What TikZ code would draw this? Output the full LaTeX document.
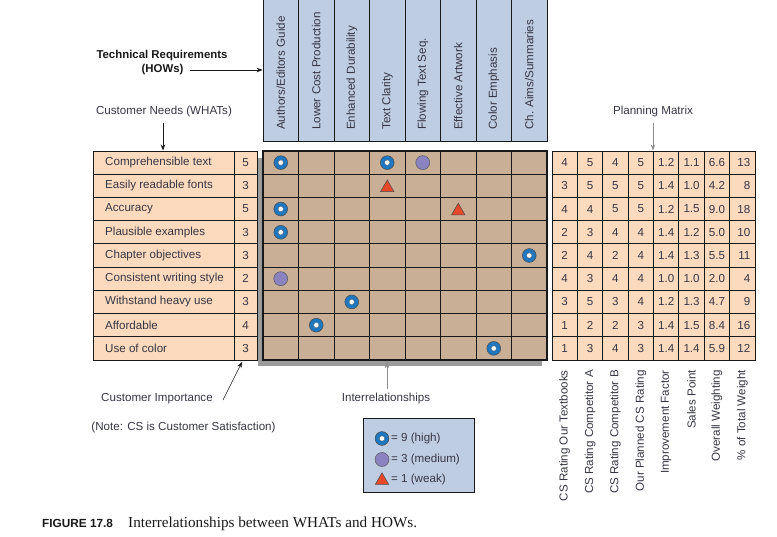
\documentclass[tikz,border=0pt]{standalone}
\usepackage{fontspec}
\setmainfont{Liberation Sans}
\newfontfamily\capserif{Liberation Serif}
\usetikzlibrary{arrows.meta,shapes.geometric}
\definecolor{peach}{HTML}{FCDABD}
\definecolor{tanc}{HTML}{C8AF95}
\definecolor{hdrblue}{HTML}{BFCDE2}
\definecolor{shadowgrey}{HTML}{9B9B9B}
\definecolor{hiblue}{HTML}{1F77BF}
\definecolor{medpurple}{HTML}{8B82C0}
\definecolor{weakred}{HTML}{E8482A}
\definecolor{txt}{HTML}{363644}
\begin{document}
\begin{tikzpicture}[x=1pt,y=-1pt,
  font=\fontsize{11.6}{13}\selectfont,
  lbl/.style={text=txt, inner sep=0pt},
  boldlbl/.style={text=black!90, inner sep=0pt, font=\fontsize{11.4}{13}\selectfont\bfseries},
  gridline/.style={draw=black!90, line width=0.8pt},
  arr/.style={-{Stealth[length=6pt,width=4.5pt]}, line width=0.6pt, draw=black!90},
  greyarr/.style={arr, draw=black!45},
  hdrcol/.style={rectangle, draw=black!90, fill=hdrblue, line width=0.8pt, inner sep=0pt,
    minimum width=35.5pt, minimum height=143pt},
  highsym/.style={circle, minimum size=13.8pt, inner sep=0pt, fill=hiblue, draw=black!70, line width=0.5pt,
    path picture={\draw[black!60, fill=white, line width=0.3pt] (path picture bounding box.center) circle (2.6pt);}},
  medsym/.style={circle, minimum size=14pt, inner sep=0pt, fill=medpurple, draw=black!65, line width=0.5pt},
  weaksym/.style={regular polygon, regular polygon sides=3, minimum size=15.5pt, inner sep=0pt,
    fill=weakred, draw=black!70, line width=0.5pt}
]
\useasboundingbox (0,0) rectangle (777,537);
\def\rh{23.222}
% ---------- header (HOWs) ----------
\foreach \i in {1,...,8} {
  \node[hdrcol] (h\i) at ({263+(\i-0.5)*35.5}, 69.5) {};
}
\node[lbl, rotate=90, anchor=west] (ht1) at (h1.center |- 0,130) {Authors/Editors Guide};
\node[lbl, rotate=90, anchor=west] (ht2) at (h2.center |- 0,130) {Lower Cost Production};
\node[lbl, rotate=90, anchor=west] (ht3) at (h3.center |- 0,130) {Enhanced Durability};
\node[lbl, rotate=90, anchor=west] (ht4) at (h4.center |- 0,130) {Text Clarity};
\node[lbl, rotate=90, anchor=west] (ht5) at (h5.center |- 0,130) {Flowing Text Seq.};
\node[lbl, rotate=90, anchor=west] (ht6) at (h6.center |- 0,130) {Effective Artwork};
\node[lbl, rotate=90, anchor=west] (ht7) at (h7.center |- 0,130) {Color Emphasis};
\node[lbl, rotate=90, anchor=west] (ht8) at (h8.center |- 0,130) {Ch. Aims/Summaries};

% ---------- relationship matrix ----------
\fill[shadowgrey] (257.5,158) rectangle (541.5,366);
\fill[tanc] (263,151) rectangle (547,360);
\foreach \i in {1,...,7} { \draw[gridline] ({263+\i*35.5},151) -- ({263+\i*35.5},360); }
\foreach \j in {1,...,8} { \draw[gridline] (263,{151+\j*\rh}) -- (547,{151+\j*\rh}); }
\node[rectangle, draw=black!90, line width=2.4pt, minimum width=284pt, minimum height=209pt, inner sep=0pt] (mat) at (405,255.5) {};

% symbols: row/col
\foreach \r/\c in {1/1,1/4,3/1,4/1,5/8,7/3,8/2,9/7} {
  \node[highsym] (s\r-\c) at ({263+(\c-0.5)*35.5},{151+(\r-0.5)*\rh}) {};
}
\foreach \r/\c in {1/5,6/1} {
  \node[medsym] (s\r-\c) at ({263+(\c-0.5)*35.5},{151+(\r-0.5)*\rh}) {};
}
\foreach \r/\c in {2/4,3/6} {
  \node[weaksym] (s\r-\c) at ({263+(\c-0.5)*35.5},{151+(\r-0.5)*\rh+1.9}) {};
}

% ---------- customer needs table ----------
\fill[peach] (93,151) rectangle (257,360);
\draw[gridline] (234,151) -- (234,360);
\foreach \j in {1,...,8} { \draw[gridline] (93,{151+\j*\rh}) -- (257,{151+\j*\rh}); }
\node[rectangle, draw=black!90, line width=0.8pt, minimum width=164pt, minimum height=209pt, inner sep=0pt] (needtab) at (175,255.5) {};
\foreach \r/\t/\n in {1/Comprehensible text/5, 2/Easily readable fonts/3, 3/Accuracy/5,
  4/Plausible examples/3, 5/Chapter objectives/3, 6/Consistent writing style/2,
  7/Withstand heavy use/3, 8/Affordable/4, 9/Use of color/3} {
  \node[lbl, anchor=west] (need\r) at (105,{151+(\r-0.5)*\rh}) {\t};
  \node[lbl] (imp\r) at (245.5,{151+(\r-0.5)*\rh}) {\n};
}

% ---------- planning matrix ----------
\fill[peach] (552,151) rectangle (755,360);
\foreach \i in {1,...,7} { \draw[gridline] ({552+\i*25.375},151) -- ({552+\i*25.375},360); }
\foreach \j in {1,...,8} { \draw[gridline] (552,{151+\j*\rh}) -- (755,{151+\j*\rh}); }
\node[rectangle, draw=black!90, line width=0.8pt, minimum width=203pt, minimum height=209pt, inner sep=0pt] (plan) at (653.5,255.5) {};
\foreach \r/\vals/\pct in {1/{4,5,4,5,1.2,1.1,6.6}/13, 2/{3,5,5,5,1.4,1.0,4.2}/8,
  3/{4,4,5,5,1.2,1.5,9.0}/18, 4/{2,3,4,4,1.4,1.2,5.0}/10, 5/{2,4,2,4,1.4,1.3,5.5}/11,
  6/{4,3,4,4,1.0,1.0,2.0}/4, 7/{3,5,3,4,1.2,1.3,4.7}/9, 8/{1,2,2,3,1.4,1.5,8.4}/16,
  9/{1,3,4,3,1.4,1.4,5.9}/12} {
  \foreach \v [count=\c] in \vals {
    \node[lbl] (p\r-\c) at ({552+(\c-0.5)*25.375},{151+(\r-0.5)*\rh}) {\v};
  }
  \node[lbl, anchor=east] (p\r-8) at (750.5,{151+(\r-0.5)*\rh}) {\pct};
}
\foreach \c/\t in {1/CS Rating Our Textbooks, 2/CS Rating Competitor A, 3/CS Rating Competitor B,
  4/Our Planned CS Rating, 5/Improvement Factor, 6/Sales Point, 7/Overall Weighting, 8/\% of Total Weight} {
  \node[lbl, rotate=90, anchor=east] (pl\c) at ({552+(\c-0.5)*25.375},370) {\t};
}

% ---------- labels and arrows ----------
\node[boldlbl] (techreq) at (162,56) {Technical Requirements};
\node[boldlbl] (hows) at (162.5,70) {(HOWs)};
\draw[arr] ([xshift=6pt]hows.east) -- (hows.east -| h1.west);

\node[lbl] (needs) at (164,112) {Customer Needs (WHATs)};
\coordinate (needtop) at (163,150.5);
\draw[arr] (needs.south -| needtop) ++(0,5) -- (needtop);

\node[lbl] (planlbl) at (653,112) {Planning Matrix};
\coordinate (plantop) at (653,150.5);
\draw[greyarr] (planlbl.south -| plantop) ++(0,5) -- (plantop);

\node[lbl] (custimp) at (157,399) {Customer Importance};
\coordinate (impcorner) at (242,362);
\draw[arr] ([xshift=10pt,yshift=-1pt]custimp.east) -- (impcorner);

\node[lbl] (inter) at (386,399) {Interrelationships};
\coordinate (intertip) at (387,362);
\draw[greyarr] (inter.north -| intertip) ++(0,-4) -- (intertip);

\node[lbl] (note) at (183.5,427) {(Note: CS is Customer Satisfaction)};

% ---------- legend ----------
\node[rectangle, draw=black!90, fill=hdrblue, line width=0.8pt, minimum width=111pt, minimum height=74pt, inner sep=0pt] (legend) at (418.5,455) {};
\node[highsym] (lg1) at (382,438.5) {};
\node[medsym] (lg2) at (382,459.5) {};
\node[weaksym] (lg3) at (382,480.5) {};
\node[lbl, anchor=west] (lt1) at (391,438.5) {= 9 (high)};
\node[lbl, anchor=west] (lt2) at (391,459.5) {= 3 (medium)};
\node[lbl, anchor=west] (lt3) at (391,479.5) {= 1 (weak)};

% ---------- caption ----------
\node[anchor=west, inner sep=0pt, text=black!90, font=\fontsize{11.8}{13}\selectfont\bfseries] (fig) at (42,523.5) {FIGURE 17.8};
\node[anchor=west, inner sep=0pt, text=black!90, font=\capserif\fontsize{15.2}{17}\selectfont] (captext) at (128,523.5) {Interrelationships between WHATs and HOWs.};
\end{tikzpicture}
\end{document}
